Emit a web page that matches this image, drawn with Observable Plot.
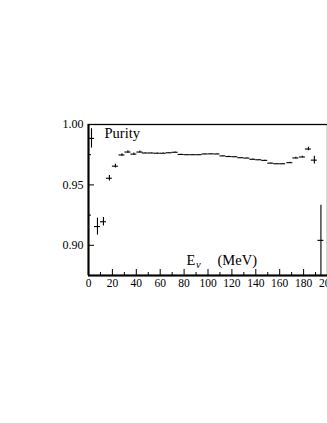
<!DOCTYPE html>
<html>
<head>
<meta charset="utf-8">
<script src="https://cdn.jsdelivr.net/npm/d3@7"></script>
<script src="https://cdn.jsdelivr.net/npm/@observablehq/plot@0.6"></script>
<style>
  html, body { margin: 0; padding: 0; background: #fff; }
  svg { display: block; }
</style>
</head>
<body>
<div id="chart"></div>
<script>
// Neutrino energy bin centres (MeV), purity, and vertical error
const energy = [2.5, 7.5, 12.5, 17.5, 22.5, 28, 33, 38, 43,
  47.5, 52.5, 57.5, 62.5, 67.5, 72.5, 77.5, 82.5, 87.5, 92.5, 97.5,
  102.5, 107.5, 112.5, 117.5, 122.5, 127.5, 132.5, 137.5, 142.5, 147.5,
  152.5, 157.5, 162.5, 168.5, 173.5, 179, 184, 189, 194.5];
const purity = [0.9885, 0.9155, 0.9195, 0.9555, 0.9655, 0.9748, 0.9772, 0.9755, 0.9772,
  0.9764, 0.9764, 0.9762, 0.9762, 0.9766, 0.9770, 0.9752, 0.9750, 0.9750, 0.9750, 0.9756,
  0.9757, 0.9756, 0.9740, 0.9735, 0.9733, 0.9725, 0.9722, 0.9712, 0.9708, 0.9703,
  0.9680, 0.9675, 0.9675, 0.9684, 0.9723, 0.9731, 0.9797, 0.9705, 0.9041];
const purityErr = [0.008, 0.007, 0.0035, 0.0022, 0.0015, 0.001, 0.001, 0.001, 0.0008,
  0.0002, 0.0002, 0.0002, 0.0002, 0.0002, 0.0002, 0.0002, 0.0002, 0.0002, 0.0002, 0.0002,
  0.0002, 0.0002, 0.0002, 0.0002, 0.0002, 0.0002, 0.0002, 0.0002, 0.0002, 0.0002,
  0.0002, 0.0002, 0.0002, 0.0004, 0.0006, 0.0006, 0.0015, 0.0033, 0.029];
const binHalfWidth = 2.5;

const xMajorTicks = [0, 20, 40, 60, 80, 100, 120, 140, 160, 180, 200];
const xMinorTicks = [10, 30, 50, 70, 90, 110, 130, 150, 170, 190];
const yMajorTicks = [0.90, 0.95, 1.00];
const yMinorTicks = [0.925, 0.975];
const xDomain = [0, 200];
const yDomain = [0.875, 1.0];

const data = energy.map((e, i) => ({e, p: purity[i], err: purityErr[i]}));

const W = 327, H = 423, mT = 124, mB = 148, mL = 88, mR = 0;
const innerH = H - mT - mB, innerW = W - mL - mR;
const font = "'Liberation Serif', 'DejaVu Serif', serif";

const chart = Plot.plot({
  width: W, height: H,
  marginTop: mT, marginBottom: mB, marginLeft: mL, marginRight: mR,
  style: {fontFamily: font, background: "white", color: "black"},
  x: {domain: xDomain},
  y: {domain: yDomain},
  marks: [
    // error bars: horizontal bin widths and vertical errors
    Plot.ruleY(data, {y: "p", x1: d => d.e - binHalfWidth, x2: d => d.e + binHalfWidth, stroke: "black", strokeWidth: 1.1, clip: true}),
    Plot.ruleX(data, {x: "e", y1: d => d.p - d.err, y2: d => d.p + d.err, stroke: "black", strokeWidth: 1.1, clip: true}),
    // ticks (inward)
    Plot.tickX(xMajorTicks, {x: d => d, insetTop: innerH - 6, stroke: "black"}),
    Plot.tickX(xMinorTicks, {x: d => d, insetTop: innerH - 3, stroke: "black"}),
    Plot.tickY(yMajorTicks, {y: d => d, insetRight: innerW - 6, stroke: "black"}),
    Plot.tickY(yMinorTicks, {y: d => d, insetRight: innerW - 3, stroke: "black"}),
    Plot.frame({stroke: "black", strokeWidth: 1.3}),
    Plot.ruleX([xDomain[0]], {stroke: "black", strokeWidth: 2}),
    Plot.ruleY([yDomain[0]], {stroke: "black", strokeWidth: 2}),
    // axis labels
    Plot.axisX({ticks: xMajorTicks, tickSize: 0, tickPadding: 3, fontSize: 11.5, label: null}),
    Plot.axisY({ticks: yMajorTicks, tickSize: 0, tickPadding: 5, fontSize: 12, label: null, tickFormat: d3.format(".2f")}),
    // annotations
    Plot.text(["Purity"], {frameAnchor: "top-left", dx: 16, dy: 3, textAnchor: "start", lineAnchor: "top", fontSize: 14.5}),
    Plot.text(["E"], {frameAnchor: "bottom-left", dx: 98, dy: -11, textAnchor: "start", lineAnchor: "bottom", fontSize: 14.5}),
    Plot.text(["ν"], {frameAnchor: "bottom-left", dx: 107.5, dy: -8, textAnchor: "start", lineAnchor: "bottom", fontSize: 10.5, fontStyle: "italic"}),
    Plot.text(["(MeV)"], {frameAnchor: "bottom-left", dx: 129, dy: -11, textAnchor: "start", lineAnchor: "bottom", fontSize: 14.5})
  ]
});
document.getElementById("chart").appendChild(chart);
</script>
</body>
</html>
